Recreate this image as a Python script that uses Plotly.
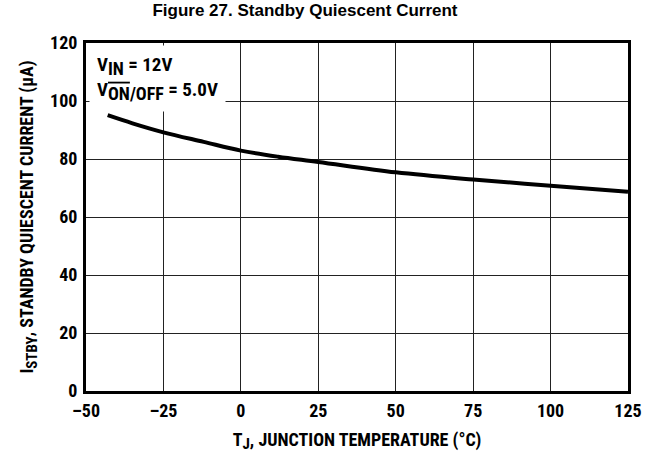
import plotly.graph_objects as go

temp_c = [-43, -35, -25, -12, 0, 12, 25, 50, 75, 100, 125]
i_stby_ua = [95.1, 92.3, 89.2, 85.9, 82.9, 80.8, 79.0, 75.4, 72.9, 70.8, 68.7]

x_ticks = [-50, -25, 0, 25, 50, 75, 100, 125]
x_ticklabels = ["\u201350", "\u201325", "0", "25", "50", "75", "100", "125"]
y_ticks = [0, 20, 40, 60, 80, 100, 120]

FONT = "Roboto Condensed, Liberation Sans Narrow, Arial Narrow, Liberation Sans, Arial, sans-serif"

fig = go.Figure()
fig.add_trace(go.Scatter(
    x=temp_c, y=i_stby_ua, mode="lines",
    line=dict(color="black", width=4, shape="spline"),
    hoverinfo="skip", showlegend=False,
))

fig.update_layout(
    width=658, height=460,
    margin=dict(l=86, r=30, t=43, b=69),
    paper_bgcolor="white", plot_bgcolor="white",
    title=dict(
        text="<b>Figure 27. Standby Quiescent Current</b>",
        xref="container", x=0.4635, xanchor="center", y=0.992, yanchor="top",
        font=dict(family="Liberation Sans, Arial, sans-serif", size=17, color="black"),
    ),
    xaxis=dict(
        range=[-50, 125], tickvals=x_ticks, ticktext=x_ticklabels,
        showgrid=True, gridcolor="#222", gridwidth=1, zeroline=False,
        showline=True, linecolor="black", linewidth=3, mirror=True,
        ticks="", ticklabelstandoff=1,
        tickfont=dict(family=FONT, size=18, color="black", weight="bold"),
        title=dict(text="<b>T<sub><span style=\"font-size:15px\">J</span></sub>, JUNCTION TEMPERATURE (\u00b0C)</b>",
                   font=dict(family=FONT, size=18, color="black"), standoff=14),
    ),
    yaxis=dict(
        range=[0, 120], tickvals=y_ticks,
        showgrid=True, gridcolor="#222", gridwidth=1, zeroline=False,
        showline=True, linecolor="black", linewidth=3, mirror=True,
        ticks="", ticklabelstandoff=2,
        tickfont=dict(family=FONT, size=18, color="black", weight="bold"),
        title=dict(text="<b>I<sub><span style=\"font-size:15px\">STBY</span></sub>, STANDBY QUIESCENT CURRENT (\u03bcA)</b>",
                   font=dict(family=FONT, size=18, color="black"), standoff=12),
    ),
    annotations=[dict(
        xref="paper", yref="paper", x=0.006, y=0.995, xanchor="left", yanchor="top",
        align="left", showarrow=False, bgcolor="white", borderpad=7,
        text=("<b>V<sub><span style=\"font-size:18px\">IN</span></sub> = 12V<br>"
              "V<sub><span style=\"font-size:18px\"><span style=\"text-decoration:overline\">ON</span>/OFF</span></sub> = 5.0V</b>"),
        font=dict(family=FONT, size=19, color="black"),
    )],
)

fig.write_html("out.html", config={"displayModeBar": False},
               post_script="document.body.style.margin='0';document.body.style.padding='0';")
